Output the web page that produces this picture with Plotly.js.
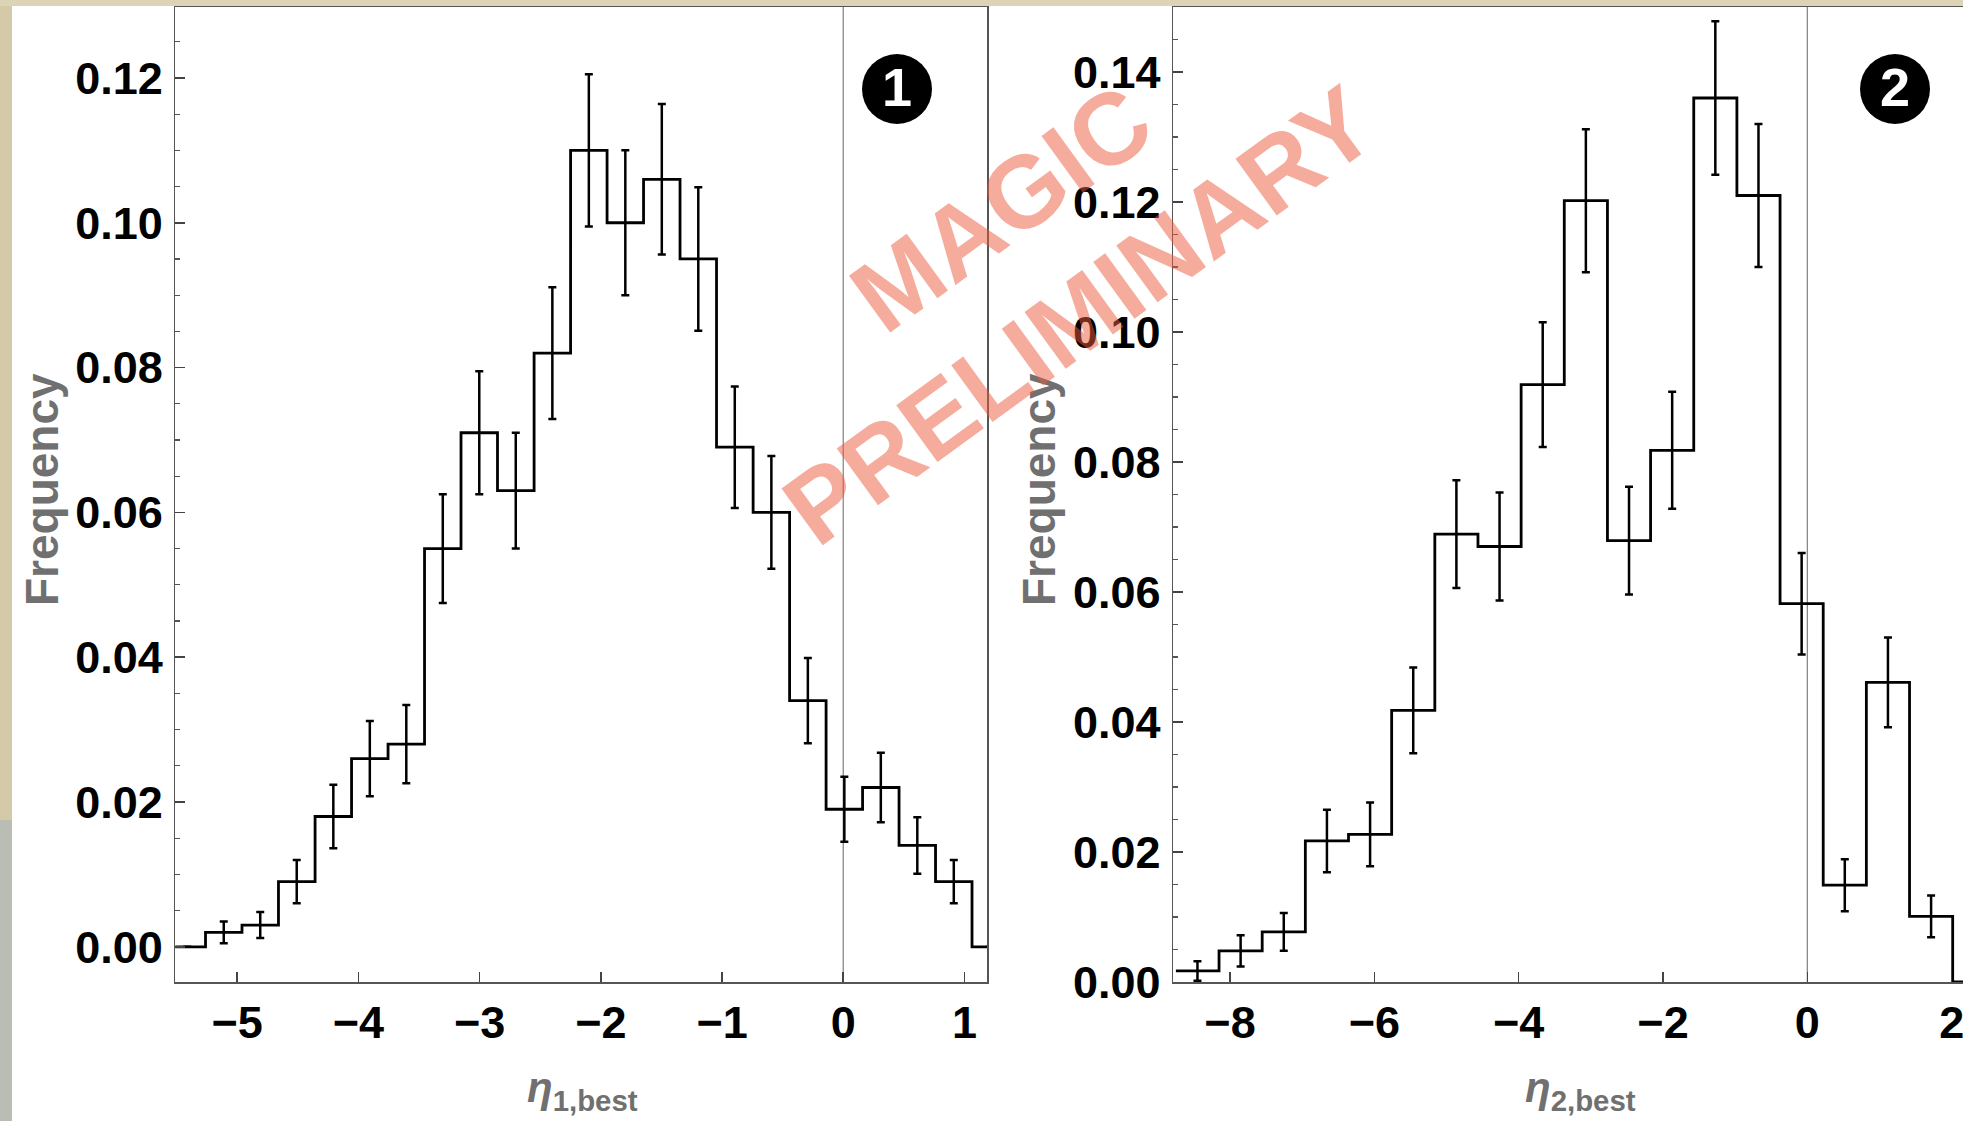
<!DOCTYPE html>
<html>
<head>
<meta charset="utf-8">
<script src="https://cdn.plot.ly/plotly-3.0.1.min.js"></script>
<style>
  html, body { margin: 0; padding: 0; background: #ffffff; }
  #chart { width: 1963px; height: 1121px; }
</style>
</head>
<body>
<div id="chart"></div>
<script>
// Histogram 1: eta_1,best (bin centres, frequencies, statistical errors)
const eta1Centers = [-5.412, -5.111, -4.810, -4.509, -4.207, -3.906, -3.605, -3.304,
                     -3.003, -2.702, -2.400, -2.099, -1.798, -1.497, -1.196, -0.895,
                     -0.593, -0.292, 0.009, 0.310, 0.611, 0.912, 1.213];
const eta1Freq = [0.000, 0.002, 0.003, 0.009, 0.018, 0.026, 0.028, 0.055,
                  0.071, 0.063, 0.082, 0.110, 0.100, 0.106, 0.095, 0.069,
                  0.060, 0.034, 0.019, 0.022, 0.014, 0.009, 0.000];
const eta1Err = [0.0000, 0.0015, 0.0018, 0.0030, 0.0044, 0.0052, 0.0054, 0.0075,
                 0.0085, 0.0080, 0.0091, 0.0105, 0.0100, 0.0104, 0.0099, 0.0084,
                 0.0078, 0.0059, 0.0045, 0.0048, 0.0039, 0.0030, 0.0000];
const eta1BinWidth = 0.3012;

// Histogram 2: eta_2,best
const eta2Centers = [-8.451, -7.853, -7.255, -6.657, -6.059, -5.461, -4.863, -4.265,
                     -3.667, -3.069, -2.471, -1.873, -1.275, -0.677, -0.079, 0.519,
                     1.117, 1.715, 2.313];
const eta2Freq = [0.0017, 0.0048, 0.0077, 0.0217, 0.0227, 0.0418, 0.0689, 0.0670,
                  0.0919, 0.1202, 0.0679, 0.0818, 0.1360, 0.1210, 0.0582, 0.0149,
                  0.0461, 0.0101, 0.0000];
const eta2Err = [0.0015, 0.0024, 0.0029, 0.0048, 0.0049, 0.0066, 0.0083, 0.0083,
                 0.0096, 0.0110, 0.0083, 0.0090, 0.0118, 0.0110, 0.0078, 0.0040,
                 0.0069, 0.0032, 0.0000];
const eta2BinWidth = 0.598;

// Tick values
const eta1Ticks = [-5, -4, -3, -2, -1, 0, 1];
const eta2Ticks = [-8, -6, -4, -2, 0, 2];
const freq1Ticks = [0.00, 0.02, 0.04, 0.06, 0.08, 0.10, 0.12];
const freq2Ticks = [0.00, 0.02, 0.04, 0.06, 0.08, 0.10, 0.12, 0.14];

const W = 1963, H = 1121;
const px = v => v / W;
const py = v => 1 - v / H;

// Outline of a histogram: left edges + final right edge, drawn as an "hv" step
function stepTrace(centers, freq, width, xa, ya) {
  const xs = centers.map(c => c - width / 2);
  xs.push(centers[centers.length - 1] + width / 2);
  const ys = freq.slice();
  ys.push(freq[freq.length - 1]);
  return {
    type: 'scatter', mode: 'lines', x: xs, y: ys, xaxis: xa, yaxis: ya,
    line: {shape: 'hv', color: '#000', width: 2.8}, hoverinfo: 'skip', showlegend: false
  };
}
function errTrace(centers, freq, err, xa, ya) {
  return {
    type: 'scatter', mode: 'markers', x: centers, y: freq, xaxis: xa, yaxis: ya,
    marker: {size: 1, color: 'rgba(0,0,0,0)'},
    error_y: {type: 'data', array: err, visible: true, color: '#000', thickness: 2.5, width: 4},
    hoverinfo: 'skip', showlegend: false
  };
}

const tickFont = {family: 'Liberation Sans, Arial, sans-serif', size: 45, color: '#000', weight: 'bold'};
const titleFont = {family: 'Liberation Sans, Arial, sans-serif', size: 46, color: '#707070', weight: 'bold'};

const xBase = {
  showgrid: false, zeroline: false, showline: true, linecolor: '#555', linewidth: 1.5,
  ticks: 'inside', ticklen: 10, tickwidth: 1.6, tickcolor: '#444',
  tickfont: tickFont, ticklabelstandoff: 0, ticklabeloverflow: 'allow', fixedrange: true
};
const yBase = {
  showgrid: false, zeroline: false, showline: true, linecolor: '#555', linewidth: 1.5,
  ticks: 'inside', ticklen: 10, tickwidth: 1.6, tickcolor: '#444',
  tickformat: '.2f', tickfont: tickFont, ticklabelstandoff: 2, ticklabeloverflow: 'allow', fixedrange: true,
  minor: {ticks: 'inside', ticklen: 5, tickwidth: 1.2, tickcolor: '#555', dtick: 0.005, showgrid: false}
};

const yDomain = [py(982), py(7)];

const layout = {
  width: W, height: H,
  margin: {l: 0, r: 0, t: 0, b: 0},
  paper_bgcolor: '#ffffff', plot_bgcolor: 'rgba(0,0,0,0)',
  showlegend: false,
  xaxis: Object.assign({}, xBase, {
    domain: [px(175.4), px(987)], range: [-5.51, 1.186],
    tickmode: 'array', tickvals: eta1Ticks, anchor: 'y', mirror: true
  }),
  yaxis: Object.assign({}, yBase, {
    domain: yDomain, range: [-0.00486, 0.1298],
    tickmode: 'array', tickvals: freq1Ticks, anchor: 'x', mirror: true
  }),
  xaxis2: Object.assign({}, xBase, {
    domain: [px(1173), 1], range: [-8.79, 2.157],
    tickmode: 'array', tickvals: eta2Ticks, anchor: 'y2', mirror: true
  }),
  yaxis2: Object.assign({}, yBase, {
    domain: yDomain, range: [0, 0.150],
    tickmode: 'array', tickvals: freq2Ticks, anchor: 'x2', mirror: false
  }),
  shapes: [
    // slide edge visible around the figure
    {type: 'rect', xref: 'paper', yref: 'paper', x0: 0, x1: px(12), y0: py(820), y1: 1,
     fillcolor: '#d5caa8', line: {width: 0}, layer: 'below'},
    {type: 'rect', xref: 'paper', yref: 'paper', x0: 0, x1: px(12), y0: 0, y1: py(820),
     fillcolor: '#b9bdb3', line: {width: 0}, layer: 'below'},
    {type: 'rect', xref: 'paper', yref: 'paper', x0: 0, x1: 1, y0: py(6), y1: 1,
     fillcolor: '#ddd3b6', line: {width: 0}, layer: 'below'},
    // eta = 0 reference lines
    {type: 'line', xref: 'x', yref: 'y domain', x0: 0, x1: 0, y0: 0, y1: 1,
     line: {color: '#888', width: 1.3}, layer: 'below'},
    {type: 'line', xref: 'x2', yref: 'y2 domain', x0: 0, x1: 0, y0: 0, y1: 1,
     line: {color: '#888', width: 1.3}, layer: 'below'},
    // panel badges
    {type: 'circle', xref: 'paper', yref: 'paper', xsizemode: 'pixel', ysizemode: 'pixel',
     xanchor: px(897), yanchor: py(89), x0: -35, x1: 35, y0: -35, y1: 35,
     fillcolor: '#000', line: {width: 0}},
    {type: 'circle', xref: 'paper', yref: 'paper', xsizemode: 'pixel', ysizemode: 'pixel',
     xanchor: px(1895), yanchor: py(89), x0: -35, x1: 35, y0: -35, y1: 35,
     fillcolor: '#000', line: {width: 0}}
  ],
  annotations: [
    {text: '1', xref: 'paper', yref: 'paper', x: px(897), y: py(89), showarrow: false,
     xanchor: 'center', yanchor: 'middle', yshift: 2,
     font: {family: 'Liberation Sans, Arial, sans-serif', size: 54, color: '#fff', weight: 'bold'}},
    {text: '2', xref: 'paper', yref: 'paper', x: px(1895), y: py(89), showarrow: false,
     xanchor: 'center', yanchor: 'middle', yshift: 2,
     font: {family: 'Liberation Sans, Arial, sans-serif', size: 54, color: '#fff', weight: 'bold'}},
    {text: 'Frequency', xref: 'paper', yref: 'paper', x: px(42), y: py(490), textangle: -90,
     showarrow: false, xanchor: 'center', yanchor: 'middle', font: titleFont},
    {text: 'Frequency', xref: 'paper', yref: 'paper', x: px(1039), y: py(490), textangle: -90,
     showarrow: false, xanchor: 'center', yanchor: 'middle', font: titleFont},
    {text: '<i>η</i><sub>1,best</sub>', xref: 'paper', yref: 'paper', x: px(582), y: py(1090),
     showarrow: false, xanchor: 'center', yanchor: 'middle',
     font: {family: 'Liberation Sans, Arial, sans-serif', size: 42, color: '#707070', weight: 'bold'}},
    {text: '<i>η</i><sub>2,best</sub>', xref: 'paper', yref: 'paper', x: px(1580), y: py(1090),
     showarrow: false, xanchor: 'center', yanchor: 'middle',
     font: {family: 'Liberation Sans, Arial, sans-serif', size: 42, color: '#707070', weight: 'bold'}},
    {text: 'MAGIC<br>PRELIMINARY', xref: 'paper', yref: 'paper', x: px(1040), y: py(262),
     showarrow: false, xanchor: 'center', yanchor: 'middle', textangle: -36,
     font: {family: 'Liberation Sans, Arial, sans-serif', size: 102, color: 'rgba(235,90,60,0.5)', weight: 'bold'}}
  ]
};

const data = [
  stepTrace(eta1Centers, eta1Freq, eta1BinWidth, 'x', 'y'),
  errTrace(eta1Centers, eta1Freq, eta1Err, 'x', 'y'),
  stepTrace(eta2Centers, eta2Freq, eta2BinWidth, 'x2', 'y2'),
  errTrace(eta2Centers, eta2Freq, eta2Err, 'x2', 'y2')
];

Plotly.newPlot('chart', data, layout, {staticPlot: true, displayModeBar: false});
</script>
</body>
</html>
